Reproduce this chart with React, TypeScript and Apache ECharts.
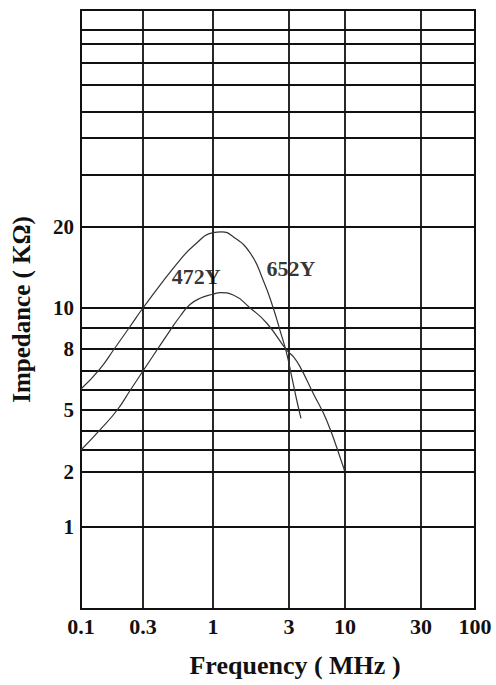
import React, { useEffect, useRef } from 'react';
import * as echarts from 'echarts';

// ---- axis ticks / labels ----
const X_TICKS = [0.1, 0.3, 1, 3, 10, 30, 100];
const X_TICK_LABELS = ['0.1', '0.3', '1', '3', '10', '30', '100'];
const Y_GRID = [1, 2, 3, 4, 5, 6, 7, 8, 9, 10, 20, 30, 40, 50, 60, 70, 80, 90, 100];
const Y_LABELED = [1, 2, 5, 8, 10, 20];

// ---- series values (frequency in MHz, impedance in kΩ) ----
const FREQ_652Y = [0.1, 0.14, 0.18, 0.24, 0.3, 0.54, 0.73, 1.0, 1.13, 1.34, 1.71, 2.06, 2.38, 2.63, 2.9, 3.18, 3.54, 3.88];
const IMP_652Y = [6.05, 7.1, 8.0, 9.1, 10.0, 15.5, 17.8, 19.3, 19.4, 18.8, 16.8, 13.5, 10.1, 8.9, 7.8, 6.7, 5.5, 4.6];
const FREQ_472Y = [0.1, 0.14, 0.19, 0.24, 0.3, 0.48, 0.57, 0.67, 0.8, 1.0, 1.11, 1.34, 1.71, 2.17, 2.9, 3.29, 3.8, 5.03, 6.75, 9.64, 9.9];
const IMP_472Y = [3.0, 4.05, 5.0, 6.0, 7.0, 8.9, 9.6, 10.4, 11.2, 11.7, 11.9, 11.6, 10.0, 9.25, 7.95, 7.65, 7.2, 5.85, 4.5, 2.24, 2.05];

// ---- curve captions ----
const CAPTIONS = ['472Y', '652Y'];
const CAPTION_FREQ = [0.75, 3.13];
const CAPTION_IMP = [13.8, 14.8];

// ---- graph-paper ruling (layout of the printed grid, paper units) ----
const X_RULE = [0, 62, 132, 208, 264, 340, 394];
const Y_RULE = [82, 137, 159, 178, 199, 219, 238, 260, 281, 301, 382, 434, 471, 497, 524, 546, 565, 579, 599];
const X_SPAN = 394;
const Y_SPAN = 599;

function paper(v: number, keys: number[], rule: number[], logMode: boolean): number {
  const f = (a: number) => (logMode ? Math.log10(a) : a);
  const t = f(v);
  const k = keys.map(f);
  let i = 0;
  if (t >= k[k.length - 1]) i = k.length - 2;
  else if (t > k[0]) {
    while (t > k[i + 1]) i++;
  }
  return rule[i] + ((t - k[i]) / (k[i + 1] - k[i])) * (rule[i + 1] - rule[i]);
}
const px = (f: number) => paper(f, X_TICKS, X_RULE, true);
const py = (z: number) => paper(z, Y_GRID, Y_RULE, false);

const FONT = '"Liberation Serif", "Times New Roman", serif';
const INK = '#111';

export default function App() {
  const ref = useRef<HTMLDivElement>(null);
  useEffect(() => {
    if (!ref.current) return;
    const chart = echarts.init(ref.current, undefined, { renderer: 'svg' });
    const xVals = X_TICKS.map(px);
    const yGridVals = Y_GRID.map(py);
    const yLabVals = Y_LABELED.map(py);
    const curveStyle = { color: '#333', width: 1.2 };
    chart.setOption({
      animation: false,
      backgroundColor: '#fff',
      color: ['#333', '#333', INK],
      grid: {
        left: 81,
        right: 21,
        top: 10,
        bottom: 76,
        show: true,
        borderColor: INK,
        borderWidth: 2,
      },
      xAxis: {
        type: 'value',
        min: 0,
        max: X_SPAN,
        name: 'Frequency ( MHz )',
        nameLocation: 'middle',
        nameGap: 43,
        nameTextStyle: {
          fontFamily: FONT,
          fontSize: 26,
          fontWeight: 'bold',
          color: INK,
          padding: [0, 0, 0, 34],
        },
        axisLine: { show: true, lineStyle: { color: INK, width: 2 } },
        axisTick: { show: false, customValues: xVals },
        axisLabel: {
          customValues: xVals,
          margin: 6,
          fontFamily: FONT,
          fontSize: 22,
          fontWeight: 'bold',
          color: INK,
          formatter: (v: number) => {
            const i = xVals.findIndex((r) => Math.abs(r - v) < 0.5);
            return i >= 0 ? X_TICK_LABELS[i] : '';
          },
        },
        splitLine: { show: true, lineStyle: { color: INK, width: 1.8 } },
      },
      yAxis: {
        type: 'value',
        min: 0,
        max: Y_SPAN,
        name: 'Impedance ( KΩ)',
        nameLocation: 'middle',
        nameGap: 47,
        nameTextStyle: { fontFamily: FONT, fontSize: 25, fontWeight: 'bold', color: INK },
        axisLine: { show: true, lineStyle: { color: INK, width: 2 } },
        axisTick: { show: false, customValues: yGridVals },
        axisLabel: {
          customValues: yLabVals,
          margin: 7,
          fontFamily: FONT,
          fontSize: 21,
          fontWeight: 'bold',
          color: INK,
          formatter: (v: number) => {
            const i = yLabVals.findIndex((r) => Math.abs(r - v) < 0.5);
            return i >= 0 ? String(Y_LABELED[i]) : '';
          },
        },
        splitLine: { show: true, lineStyle: { color: INK, width: 1.8 } },
      },
      series: [
        {
          name: '652Y',
          type: 'line',
          smooth: 0.5,
          symbol: 'none',
          lineStyle: curveStyle,
          data: FREQ_652Y.map((f, i) => [px(f), py(IMP_652Y[i])]),
          z: 3,
        },
        {
          name: '472Y',
          type: 'line',
          smooth: 0.5,
          symbol: 'none',
          lineStyle: curveStyle,
          data: FREQ_472Y.map((f, i) => [px(f), py(IMP_472Y[i])]),
          z: 3,
        },
        {
          name: 'captions',
          type: 'scatter',
          symbolSize: 1,
          silent: true,
          itemStyle: { color: 'rgba(0,0,0,0)' },
          label: {
            show: true,
            position: 'top',
            distance: -11,
            fontFamily: FONT,
            fontSize: 22,
            fontWeight: 'bold',
            color: '#000',
            textBorderWidth: 0,
            textBorderColor: 'transparent',
            formatter: (p: any) => CAPTIONS[p.dataIndex],
          },
          data: CAPTION_FREQ.map((f, i) => [px(f), py(CAPTION_IMP[i])]),
          z: 4,
        },
      ],
    });
    return () => chart.dispose();
  }, []);
  return (
    <div
      ref={ref}
      style={{ position: 'absolute', left: 0, top: 0, width: 496, height: 685 }}
    />
  );
}
